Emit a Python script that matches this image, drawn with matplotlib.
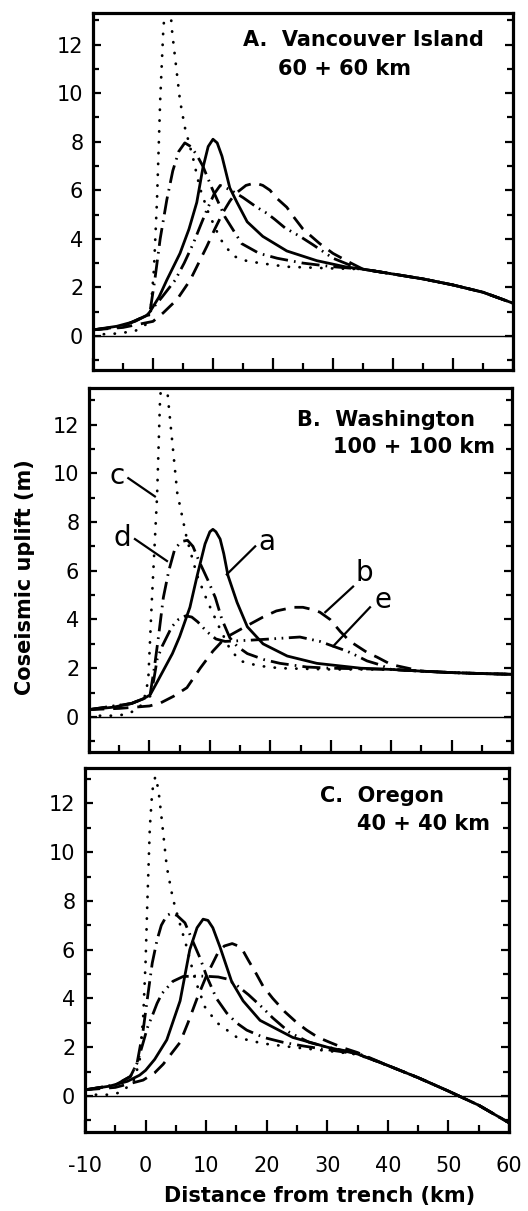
"""Coseismic uplift profiles across the margin for three along-strike segments.

Panels A-C: Vancouver Island, Washington, Oregon. Curves a-e are the five
rupture models; only panel B carries the curve letters.
"""
import numpy as np
import matplotlib
matplotlib.use("Agg")
import matplotlib.pyplot as plt

plt.rcParams['font.family'] = ['DejaVu Sans']
plt.rcParams['axes.unicode_minus'] = False

# ---------------------------------------------------------------- panel A
A_tail_x = [35, 40, 45, 50, 55, 60]
A_tail_y = [2.75, 2.55, 2.35, 2.1, 1.8, 1.35]

A_a_x = [-10, -6, -3, -1, -0.5, 1, 2.3, 4.5, 6, 7.3, 8.3, 9.2, 10, 10.7, 11.5, 12.8, 14, 15.7, 18.3, 22.3, 27.3, 32]
A_a_y = [0.25, 0.4, 0.6, 0.85, 1.0, 1.6, 2.3, 3.4, 4.4, 5.5, 6.9, 7.8, 8.1, 7.95, 7.4, 6.1, 5.5, 4.7, 4.1, 3.5, 3.1, 2.85]

A_b_x = [-10, -5, 0, 1.7, 4, 6.2, 7.6, 9, 10.3, 11.7, 12.8, 13.7, 15.5, 17, 18.3, 19.5, 20.5, 22.3, 23.3, 25, 27.8, 30, 33]
A_b_y = [0.25, 0.35, 0.6, 0.95, 1.5, 2.3, 3.0, 3.7, 4.4, 5.1, 5.55, 5.85, 6.2, 6.3, 6.2, 6.0, 5.7, 5.3, 4.95, 4.4, 3.8, 3.4, 3.0]

A_c_x = [-10, -6, -3, -1, -0.3, 0.17, 0.67, 1.2, 1.7, 2.4, 3.2, 4.5, 5.3, 6.7, 7.8, 9.2, 11.2, 13.3, 15.5, 17.8, 22.3, 30]
A_c_y = [0.05, 0.1, 0.2, 0.5, 1.3, 2.8, 5.6, 9.7, 12.5, 15.0, 12.5, 9.7, 8.6, 7.3, 6.1, 5.1, 4.0, 3.3, 3.1, 3.0, 2.85, 2.78]

A_d_x = [-10, -5, -1, -0.5, 0.3, 1.2, 2.3, 3.3, 4.3, 5.3, 6.3, 7.3, 8.3, 9.8, 12, 14.8, 17.7, 20.7, 25, 30]
A_d_y = [0.25, 0.4, 0.85, 1.0, 2.3, 4.0, 5.6, 6.8, 7.6, 7.95, 7.8, 7.45, 7.0, 6.1, 4.9, 3.8, 3.4, 3.2, 3.0, 2.85]

A_e_x = [-10, -5, -1, -0.5, 1.5, 3.7, 5.2, 6.7, 8, 9, 10.2, 11.2, 13, 15, 17.3, 19, 20.3, 22, 24.5, 26.7, 30, 33]
A_e_y = [0.25, 0.4, 0.85, 1.0, 1.6, 2.3, 3.0, 3.8, 4.6, 5.2, 5.85, 6.2, 6.0, 5.7, 5.3, 5.05, 4.8, 4.45, 4.1, 3.75, 3.2, 2.9]

# ---------------------------------------------------------------- panel B
B_tail_x = [40, 45, 50, 55, 60]
B_tail_y = [1.95, 1.88, 1.82, 1.78, 1.75]

B_a_x = [-10, -6, -3, -1, 0.1, 1.2, 2.5, 3.8, 5, 6.7, 7.9, 9.2, 10, 10.5, 11, 11.7, 12.3, 13, 14.5, 16.2, 18.8, 22.8, 27.7, 35]
B_a_y = [0.3, 0.4, 0.55, 0.75, 0.9, 1.4, 2.0, 2.6, 3.3, 4.5, 5.8, 7.1, 7.6, 7.7, 7.6, 7.3, 6.7, 5.8, 4.7, 3.7, 3.0, 2.5, 2.2, 2.0]

B_b_x = [-10, -5, 0, 1.8, 4, 6.2, 8.4, 10.5, 12, 13.3, 16.2, 18.8, 21, 23.8, 25.4, 27.1, 28.2, 29.9, 31.6, 33.2, 36, 37.7, 40]
B_b_y = [0.3, 0.35, 0.45, 0.57, 0.85, 1.2, 2.0, 2.7, 3.1, 3.35, 3.75, 4.1, 4.35, 4.5, 4.5, 4.4, 4.3, 4.0, 3.5, 3.1, 2.65, 2.45, 2.15]

B_c_x = [-10, -6, -4, -2, -1, -0.2, 0.4, 1.26, 1.75, 2.4, 3.1, 4.6, 6.2, 7.9, 9.5, 11.7, 13.3, 15, 18, 21.6, 30]
B_c_y = [0.05, 0.05, 0.1, 0.3, 0.6, 1.5, 4.8, 9.05, 13.0, 15.0, 13.0, 9.2, 7.3, 5.8, 4.8, 3.6, 2.8, 2.3, 2.1, 2.0, 1.95]

B_d_x = [-10, -3, -0.5, 0.1, 0.8, 1.5, 2.3, 3.2, 4.2, 5.3, 6.3, 7.2, 8.2, 9.7, 10.9, 12, 13.3, 14.5, 16.2, 19, 21.6, 26, 30]
B_d_y = [0.3, 0.55, 0.8, 0.9, 2.0, 3.3, 4.9, 6.0, 6.9, 7.2, 7.25, 7.0, 6.4, 5.6, 4.9, 4.0, 3.25, 2.9, 2.6, 2.35, 2.2, 2.05, 2.0]

B_e_x = [-10, -3, 0.1, 0.7, 1.3, 2.1, 2.9, 3.7, 4.8, 6, 7, 8, 9.5, 11, 12.5, 16.7, 20, 24.9, 28.2, 31, 32.7, 34.4, 36, 38]
B_e_y = [0.3, 0.55, 0.85, 1.5, 2.4, 2.9, 3.3, 3.7, 4.0, 4.15, 4.1, 3.9, 3.5, 3.2, 3.1, 3.15, 3.2, 3.28, 3.1, 2.85, 2.7, 2.5, 2.3, 2.15]

# ---------------------------------------------------------------- panel C
C_tail_x = [40, 45, 50, 55, 60]
C_tail_y = [1.25, 0.75, 0.2, -0.38, -1.1]

C_a_x = [-10, -6, -3, -1, 0, 1.5, 3.5, 5.7, 7.3, 8.5, 9.5, 10.3, 11.1, 12.3, 14.2, 16.1, 18.9, 24.3, 30, 35]
C_a_y = [0.25, 0.4, 0.6, 0.85, 1.05, 1.5, 2.3, 3.9, 6.0, 6.9, 7.25, 7.2, 6.9, 6.1, 4.7, 3.9, 3.1, 2.4, 2.0, 1.72]

C_b_x = [-10, -5, -0.4, 1.5, 2.9, 4.3, 5.7, 7, 8.5, 10, 11, 12, 13, 14.3, 15.3, 16.1, 17, 18.3, 19.4, 21, 23, 25, 26.6, 28.5, 30.4, 32.9, 35]
C_b_y = [0.25, 0.35, 0.65, 0.95, 1.3, 1.75, 2.2, 3.0, 4.0, 4.9, 5.4, 5.9, 6.15, 6.25, 6.15, 5.95, 5.55, 5.0, 4.5, 4.0, 3.45, 3.0, 2.7, 2.4, 2.2, 1.95, 1.78]

C_c_x = [-10, -6, -4, -2, -1, -0.4, 0, 0.3, 0.7, 1.1, 1.6, 2.1, 2.6, 3.5, 4.5, 5.5, 6.8, 8.2, 9.8, 11.8, 15.1, 19.4, 24.3, 30, 35]
C_c_y = [0.05, 0.05, 0.15, 0.6, 1.4, 3.2, 5.5, 8.0, 11.0, 12.5, 13.1, 12.6, 11.5, 9.4, 8.1, 7.2, 6.1, 4.75, 3.65, 3.0, 2.4, 2.15, 2.0, 1.85, 1.7]

C_d_x = [-10, -5, -2.5, -1.4, -0.4, 0.3, 1.1, 1.9, 2.6, 3.5, 4.3, 5.2, 6.5, 7.7, 9, 10.1, 11.7, 13.4, 15, 16.7, 19.5, 22.7, 26, 30, 35]
C_d_y = [0.25, 0.45, 0.8, 1.35, 2.7, 4.0, 5.45, 6.4, 7.0, 7.4, 7.5, 7.4, 7.1, 6.4, 5.65, 4.9, 4.0, 3.4, 3.0, 2.7, 2.4, 2.2, 2.05, 1.9, 1.72]

C_e_x = [-10, -5, -2.5, -1.4, -0.5, 0.3, 1.2, 1.9, 2.7, 4.5, 6.2, 8.7, 10.6, 12, 13.4, 15, 17, 19.4, 21, 23.8, 27, 30, 35]
C_e_y = [0.25, 0.45, 0.8, 1.35, 2.1, 2.8, 3.35, 3.8, 4.2, 4.7, 4.9, 4.92, 4.9, 4.88, 4.8, 4.55, 4.15, 3.6, 3.2, 2.6, 2.2, 2.0, 1.75]

# curve letters drawn in panel B: letter, text position, leader start, leader end
B_labels = [
    ('c', (-5.4, 9.9), (-3.5, 9.8), (0.9, 9.05)),
    ('d', (-4.5, 7.35), (-2.4, 7.3), (2.9, 6.4)),
    ('a', (19.5, 7.2), (17.5, 7.0), (12.8, 5.85)),
    ('b', (35.5, 5.9), (33.7, 5.35), (29.1, 4.3)),
    ('e', (38.7, 4.8), (36.5, 4.5), (30.4, 2.9)),
]

STYLES = {
    'a': dict(linestyle='-'),
    'b': dict(linestyle=(0, (5.5, 3.2))),
    'c': dict(linestyle=(0, (0.1, 3.8)), dash_capstyle='round'),
    'd': dict(linestyle=(0, (6.5, 2.2, 0.6, 2.2))),
    'e': dict(linestyle=(0, (6.5, 2.0, 0.6, 2.0, 0.6, 2.0))),
}


def with_tail(x, y, tail_x, tail_y):
    x = list(x)
    y = list(y)
    for tx, ty in zip(tail_x, tail_y):
        if tx > x[-1]:
            x.append(tx)
            y.append(ty)
    return x, y


def draw_panel(ax, curves, tail, ylim, title, subtitle, title_xy, sub_xy, xlabels=False):
    for key, (x, y) in curves.items():
        xx, yy = with_tail(x, y, *tail)
        ax.plot(xx, yy, color='black', lw=2.0, **STYLES[key])
    ax.axhline(0, color='black', lw=1.0)
    ax.set_xlim(-10, 60)
    ax.set_ylim(*ylim)
    ax.set_xticks(np.arange(-10, 61, 10))
    ax.set_xticks(np.arange(-5, 60, 10), minor=True)
    ax.set_yticks(np.arange(0, 13, 2))
    ax.set_yticks(np.arange(-1, 14, 2), minor=True)
    ax.tick_params(axis='x', which='major', direction='in', length=9, width=1.6,
                   pad=17, labelsize=15, labelbottom=xlabels)
    ax.tick_params(axis='x', which='minor', direction='in', length=5, width=1.6)
    ax.tick_params(axis='y', which='both', direction='in', right=True, width=1.6,
                   labelsize=15, pad=7)
    ax.tick_params(axis='y', which='major', length=6)
    ax.tick_params(axis='y', which='minor', length=4)
    for s in ax.spines.values():
        s.set_linewidth(2.3)
    ax.text(*title_xy, title, fontsize=15, fontweight='bold', va='center', ha='left')
    ax.text(*sub_xy, subtitle, fontsize=15, fontweight='bold', va='center', ha='left')


fig = plt.figure(figsize=(5.28, 12.11), dpi=100)
axA = fig.add_axes([0.1761, 0.6945, 0.7955, 0.2948])
axB = fig.add_axes([0.1686, 0.3790, 0.8011, 0.3006])
axC = fig.add_axes([0.1610, 0.0652, 0.8030, 0.3006])

draw_panel(axA, {'b': (A_b_x, A_b_y), 'c': (A_c_x, A_c_y), 'd': (A_d_x, A_d_y),
                 'e': (A_e_x, A_e_y), 'a': (A_a_x, A_a_y)},
           (A_tail_x, A_tail_y), (-1.4, 13.3),
           'A.  Vancouver Island', '60 + 60 km', (15, 12.2), (20.8, 11.0))
draw_panel(axB, {'b': (B_b_x, B_b_y), 'c': (B_c_x, B_c_y), 'd': (B_d_x, B_d_y),
                 'e': (B_e_x, B_e_y), 'a': (B_a_x, B_a_y)},
           (B_tail_x, B_tail_y), (-1.44, 13.5),
           'B.  Washington', '100 + 100 km', (24.4, 12.2), (30.4, 11.07))
draw_panel(axC, {'b': (C_b_x, C_b_y), 'c': (C_c_x, C_c_y), 'd': (C_d_x, C_d_y),
                 'e': (C_e_x, C_e_y), 'a': (C_a_x, C_a_y)},
           (C_tail_x, C_tail_y), (-1.48, 13.45),
           'C.  Oregon', '40 + 40 km', (28.8, 12.3), (34.9, 11.15), xlabels=True)

for letter, txt, start, end in B_labels:
    axB.text(*txt, letter, fontsize=20, ha='center', va='center')
    axB.plot([start[0], end[0]], [start[1], end[1]], color='black', lw=1.6)

fig.text(25 / 528, 1 - 577 / 1211, 'Coseismic uplift (m)', rotation=90,
         fontsize=15, fontweight='bold', ha='center', va='center')
fig.text(320 / 528, 1 - 1196 / 1211, 'Distance from trench (km)',
         fontsize=15, fontweight='bold', ha='center', va='center')

fig.savefig('out.png', dpi=100)
